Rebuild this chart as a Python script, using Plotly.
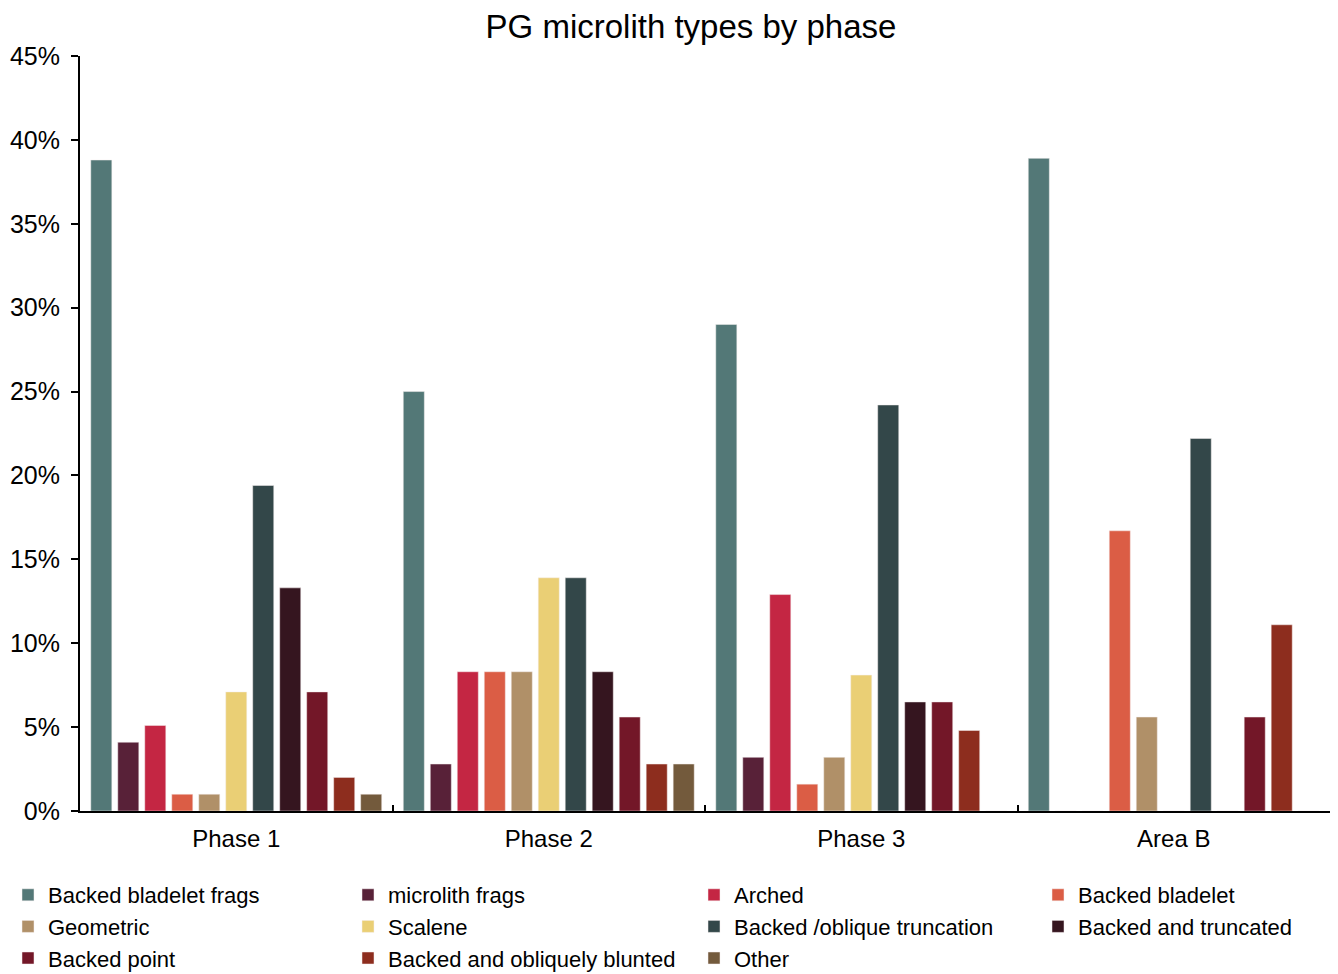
import plotly.graph_objects as go

categories = ["Phase 1", "Phase 2", "Phase 3", "Area B"]

series_names = [
    "Backed bladelet frags", "microlith frags", "Arched", "Backed bladelet",
    "Geometric", "Scalene", "Backed /oblique truncation", "Backed and truncated",
    "Backed point", "Backed and obliquely blunted", "Other",
]

backed_bladelet_frags = [0.388, 0.250, 0.290, 0.389]
microlith_frags = [0.041, 0.028, 0.032, 0.0]
arched = [0.051, 0.083, 0.129, 0.0]
backed_bladelet = [0.010, 0.083, 0.016, 0.167]
geometric = [0.010, 0.083, 0.032, 0.056]
scalene = [0.071, 0.139, 0.081, 0.0]
backed_oblique_truncation = [0.194, 0.139, 0.242, 0.222]
backed_and_truncated = [0.133, 0.083, 0.065, 0.0]
backed_point = [0.071, 0.056, 0.065, 0.056]
backed_obliquely_blunted = [0.020, 0.028, 0.048, 0.111]
other = [0.010, 0.028, 0.0, 0.0]

series_values = [
    backed_bladelet_frags, microlith_frags, arched, backed_bladelet,
    geometric, scalene, backed_oblique_truncation, backed_and_truncated,
    backed_point, backed_obliquely_blunted, other,
]

colors = [
    "#537877", "#582138", "#C42643", "#DB5D45",
    "#B09068", "#EACF75", "#334749", "#35151F",
    "#731728", "#8D2D1E", "#735A3C",
]

y_ticks = [0, 0.05, 0.10, 0.15, 0.20, 0.25, 0.30, 0.35, 0.40, 0.45]
y_tick_labels = ["0%", "5%", "10%", "15%", "20%", "25%", "30%", "35%", "40%", "45%"]

# page has an 8px body margin, so the figure is drawn 8px smaller
W, H = 1330, 966
legend_cols_px = [0, 340, 686, 1030]
legend_ids = ["legend", "legend2", "legend3", "legend4"]

fig = go.Figure()
for i, (name, vals, col) in enumerate(zip(series_names, series_values, colors)):
    fig.add_trace(go.Bar(
        name=name, x=categories, y=vals,
        marker=dict(color=col, line=dict(width=0.5, color="#f4eeee")),
        legend=legend_ids[i % 4],
    ))

font_family = "Liberation Sans, Arial, Helvetica, sans-serif"

legend_common = dict(
    orientation="v",
    xref="container", yref="container",
    xanchor="left", yanchor="top",
    y=1 - 866 / H,
    font=dict(size=22, family=font_family, color="black"),
    traceorder="normal",
    itemwidth=30,
    bgcolor="rgba(0,0,0,0)",
    tracegroupgap=0,
)

layout_legends = {}
for lid, px in zip(legend_ids, legend_cols_px):
    layout_legends[lid] = dict(legend_common, x=px / W)

fig.update_layout(
    width=W, height=H,
    barmode="group",
    bargap=0.05,
    bargroupgap=0.22,
    paper_bgcolor="white",
    plot_bgcolor="white",
    font=dict(family=font_family, size=22, color="black"),
    title=dict(text="PG microlith types by phase", x=683 / W, xanchor="center",
               xref="container", yref="container",
               y=1 - 18 / H, yanchor="middle", font=dict(size=33, color="black")),
    margin=dict(l=72, r=8, t=48, b=163, autoexpand=False),
    xaxis=dict(
        type="category",
        showline=True, linecolor="black", linewidth=2,
        ticks="inside", ticklen=6, tickcolor="black", tickwidth=1.5,
        tickson="boundaries",
        showgrid=False,
        tickfont=dict(size=24),
        ticklabelstandoff=5,
        automargin=False,
    ),
    yaxis=dict(
        range=[0, 0.45],
        tickvals=y_ticks, ticktext=y_tick_labels,
        showline=True, linecolor="black", linewidth=2,
        ticks="outside", ticklen=7, tickcolor="black", tickwidth=1.5,
        showgrid=False, zeroline=False,
        tickfont=dict(size=25),
        ticklabelstandoff=6,
        automargin=False,
    ),
    **layout_legends,
)

fig.write_html("out.html")
